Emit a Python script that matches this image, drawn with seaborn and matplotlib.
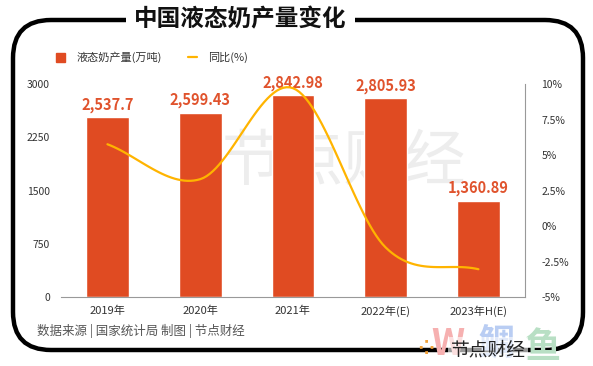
import numpy as np
import pandas as pd
import matplotlib
matplotlib.use("Agg")
import matplotlib.pyplot as plt
import seaborn as sns
from matplotlib.patches import FancyBboxPatch, Patch
from matplotlib.lines import Line2D

years = ["2019年", "2020年", "2021年", "2022年(E)", "2023年H(E)"]
output = [2537.7, 2599.43, 2842.98, 2805.93, 1360.89]
output_labels = ["2,537.7", "2,599.43", "2,842.98", "2,805.93", "1,360.89"]
yoy = [5.77, 3.31, 9.72, -1.5, -3.03]

left_ticks = [0, 750, 1500, 2250, 3000]
right_ticks = [-5, -2.5, 0, 2.5, 5, 7.5, 10]

bar_color = "#E04B22"
label_color = "#E0532D"
line_color = "#FFB400"

sns.set_theme(style="white")
plt.rcParams["font.family"] = ["Noto Sans CJK SC", "DejaVu Sans"]

df = pd.DataFrame({"year": years, "output": output, "yoy": yoy})

fig = plt.figure(figsize=(5.93, 3.66), dpi=100)
ax = fig.add_axes([0.103, 0.188, 0.782, 0.582])
ax.set_facecolor("none")

# watermark behind everything
fig.text(0.58, 0.555, "节点财经", fontsize=44, color="#EDEDED", ha="center", va="center", zorder=-5)

sns.barplot(data=df, x="year", y="output", color=bar_color, width=0.46, saturation=1, ax=ax, zorder=2)
ax.set_xlim(-0.5, 4.5)
ax.set_ylim(0, 3000)
ax.set_yticks(left_ticks)
ax.set_yticklabels([str(t) for t in left_ticks], fontsize=7.5, color="#333333")
ax.tick_params(axis="x", labelsize=8, colors="#333333", pad=6, length=0)
ax.tick_params(axis="y", pad=8, length=0)
ax.set_xlabel("")
ax.set_ylabel("")
for s in ["top", "left", "right"]:
    ax.spines[s].set_visible(False)
ax.spines["bottom"].set_color("#999999")
ax.spines["bottom"].set_linewidth(0.8)

for i, (v, lab) in enumerate(zip(output, output_labels)):
    ax.annotate(lab, (i, v), xytext=(0, 3), textcoords="offset points", ha="center", va="bottom",
                fontsize=10.5, fontweight="bold", color=label_color, zorder=5)

# secondary axis with smoothed yoy line
ax2 = ax.twinx()
ax2.set_ylim(-5, 10)
ax2.set_yticks(right_ticks)
ax2.set_yticklabels([f"{t:g}%" for t in right_ticks], fontsize=7.5, color="#333333")
ax2.tick_params(axis="y", length=0, pad=12)
for s in ["top", "left", "bottom"]:
    ax2.spines[s].set_visible(False)
ax2.spines["right"].set_color("#999999")
ax2.spines["right"].set_linewidth(0.8)

# catmull-rom smoothing through the points (like excel smoothed line)
xs = np.arange(len(yoy), dtype=float)
ys = np.array(yoy, dtype=float)
px = np.concatenate([[2 * xs[0] - xs[1]], xs, [2 * xs[-1] - xs[-2]]])
py = np.concatenate([[2 * ys[0] - ys[1]], ys, [2 * ys[-1] - ys[-2]]])
cx, cy = [], []
t = np.linspace(0, 1, 30)
for k in range(1, len(px) - 2):
    p0, p1, p2, p3 = [np.array([px[j], py[j]]) for j in (k - 1, k, k + 1, k + 2)]
    b1 = p1 + (p2 - p0) / 6
    b2 = p2 - (p3 - p1) / 6
    pts = ((1 - t) ** 3)[:, None] * p1 + (3 * (1 - t) ** 2 * t)[:, None] * b1 \
        + (3 * (1 - t) * t ** 2)[:, None] * b2 + (t ** 3)[:, None] * p2
    cx.extend(pts[:, 0])
    cy.extend(pts[:, 1])
ax2.plot(cx, cy, color=line_color, lw=1.6, zorder=4)

# legend
handles = [Patch(color=bar_color, label="液态奶产量(万吨)"),
           Line2D([0], [0], color=line_color, lw=1.6, label="同比(%)")]
fig.legend(handles=handles, loc="center left", bbox_to_anchor=(0.078, 0.843), ncol=2, frameon=False,
           fontsize=8, handlelength=0.8, handleheight=0.9, columnspacing=2.4, handletextpad=1.0,
           labelcolor="#333333")

# rounded frame
frame = FancyBboxPatch((0.13, 0.16), 5.70, 3.30, boxstyle="round,pad=0,rounding_size=0.38",
                       transform=fig.dpi_scale_trans, fill=False, edgecolor="black", lw=3.2, zorder=-1)
fig.patches.append(frame)

fig.text(0.405, 0.948, "中国液态奶产量变化", fontsize=17, fontweight="bold", color="#111111",
         ha="center", va="center",
         bbox=dict(boxstyle="square,pad=0.35", facecolor="white", edgecolor="none"))

fig.text(0.062, 0.097, "数据来源 | 国家统计局 制图 | 节点财经", fontsize=9, color="#555555",
         ha="left", va="center")

# faded third-party watermark + logo at bottom right
fig.text(0.756, 0.058, "W", fontsize=26, color="#F6B0B0", ha="center", va="center", fontweight="bold")
fig.text(0.838, 0.058, "鲷", fontsize=26, color="#B9CDF3", ha="center", va="center", fontweight="bold")
fig.text(0.916, 0.050, "鱼", fontsize=26, color="#B8DFC4", ha="center", va="center", fontweight="bold")
fig.text(0.823, 0.044, "节点财经", fontsize=13.5, color="#222222", ha="center", va="center",
         bbox=dict(boxstyle="square,pad=0.15", facecolor="white", edgecolor="none", alpha=0.6))
fig.text(0.718, 0.044, "⁘", fontsize=20, color="#F2A23A", ha="center", va="center",
         family=["DejaVu Sans"])

fig.savefig("out.png", dpi=100)
